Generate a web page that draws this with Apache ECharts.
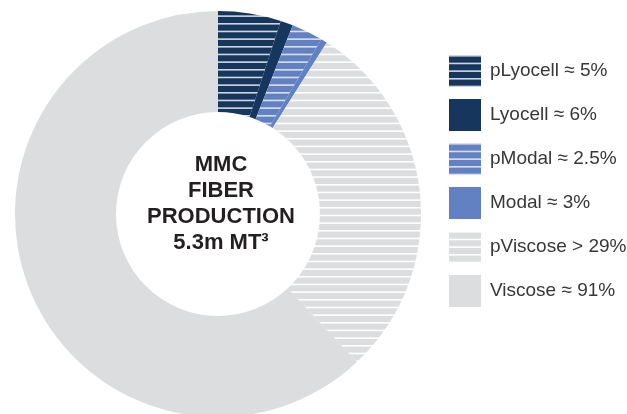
<!DOCTYPE html>
<html>
<head>
<meta charset="utf-8">
<script src="https://cdn.jsdelivr.net/npm/echarts@6/dist/echarts.min.js"></script>
<style>
  html, body { margin: 0; padding: 0; background: #ffffff; }
  #chart { width: 627px; height: 414px; }
</style>
</head>
<body>
<div id="chart"></div>
<script>
// Fiber categories, in drawing order (clockwise from 12 o'clock)
const fiberNames = ['pLyocell', 'Lyocell', 'pModal', 'Modal', 'pViscose', 'Viscose'];
// Shares quoted in the legend (percent of total MMC fiber production)
const legendRelations = ['≈', '≈', '≈', '≈', '>', '≈'];
const legendShares = [5, 6, 2.5, 3, 29, 91];
// Slice sizes: the preferred part, then the rest of each fiber total
const sliceValues = [5, 1, 2.5, 0.5, 29, 62];
const centerLines = ['MMC', 'FIBER', 'PRODUCTION', '5.3m MT³'];

const NAVY = '#17365e';
const BLUE = '#6281c3';
const GREY = '#dcdddf';

// Horizontal pin-stripe fill for the "preferred" shares
function stripes(base, line) {
  const c = document.createElement('canvas');
  c.width = 4;
  c.height = 23;
  const g = c.getContext('2d');
  g.fillStyle = base;
  g.fillRect(0, 0, 4, 23);
  g.fillStyle = line;
  for (let k = 0; k < 3; k++) g.fillRect(0, k * 23 / 3, 4, 1.6);
  return { image: c, repeat: 'repeat' };
}

const fills = [
  stripes(NAVY, 'rgba(255,255,255,0.8)'),
  NAVY,
  stripes(BLUE, 'rgba(255,255,255,0.75)'),
  BLUE,
  stripes(GREY, '#ffffff'),
  GREY
];

const chart = echarts.init(document.getElementById('chart'), null, { renderer: 'canvas' });

chart.setOption({
  animation: false,
  backgroundColor: '#ffffff',
  legend: {
    orient: 'vertical',
    left: 449,
    top: 55,
    padding: 0,
    itemWidth: 32,
    itemHeight: 32,
    itemGap: 12,
    icon: 'rect',
    selectedMode: false,
    data: fiberNames,
    formatter: function (name) {
      const i = fiberNames.indexOf(name);
      return name + ' ' + legendRelations[i] + ' ' + legendShares[i] + '%';
    },
    textStyle: {
      fontFamily: '"Liberation Sans", Arial, sans-serif',
      fontSize: 19,
      color: '#383838',
      padding: [0, 0, 0, 4]
    }
  },
  graphic: [{
    type: 'text',
    x: 221,
    y: 204,
    style: {
      text: centerLines.join('\n'),
      font: 'bold 22px "Liberation Sans", Arial, sans-serif',
      fill: '#231f20',
      align: 'center',
      verticalAlign: 'middle',
      lineHeight: 26
    }
  }],
  series: [{
    type: 'pie',
    center: [218, 214],
    radius: [102, 203],
    startAngle: 90,
    clockwise: true,
    avoidLabelOverlap: false,
    silent: true,
    label: { show: false },
    labelLine: { show: false },
    emphasis: { disabled: true },
    itemStyle: { borderWidth: 0 },
    data: fiberNames.map(function (name, i) {
      return { name: name, value: sliceValues[i], itemStyle: { color: fills[i] } };
    })
  }]
});
</script>
</body>
</html>
